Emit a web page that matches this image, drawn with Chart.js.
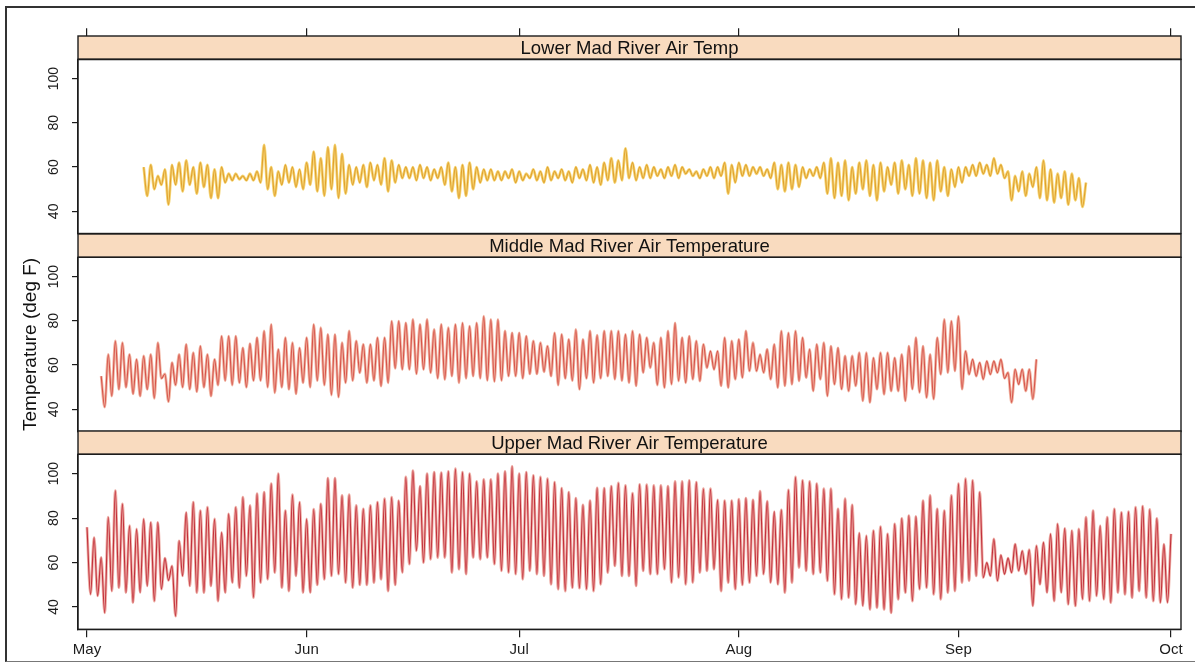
<!DOCTYPE html>
<html>
<head>
<meta charset="utf-8">
<title>Mad River Air Temperature</title>
<script src="https://cdn.jsdelivr.net/npm/chart.js@4.4.1/dist/chart.umd.min.js"></script>
<style>
  html, body { margin: 0; padding: 0; background: #ffffff; }
  #wrap { position: relative; width: 1195px; height: 662px; overflow: hidden; background: #ffffff; }
  #wrap canvas { position: absolute; left: 0; top: 0; }
  #frame { position: absolute; left: 5px; top: 6px; width: 1210px; height: 653px;
           border-left: 2px solid #333; border-top: 2px solid #333; border-bottom: 1px solid #777; }
</style>
</head>
<body>
<div id="wrap">
  <div id="frame"></div>
  <canvas id="lower" width="1195" height="662"></canvas>
  <canvas id="middle" width="1195" height="662"></canvas>
  <canvas id="upper" width="1195" height="662"></canvas>
</div>
<script>
// Days are counted from May 1 (day 0). Each station has one afternoon high per day
// (plotted at the day) and the following overnight low (plotted half a day later).

const monthDays   = [0, 31, 61, 92, 123, 153];
const monthLabels = ['May', 'Jun', 'Jul', 'Aug', 'Sep', 'Oct'];
const tempTicks   = [40, 60, 80, 100];
const panelTitles = ['Lower Mad River Air Temp', 'Middle Mad River Air Temperature', 'Upper Mad River Air Temperature'];
const axisTitle   = 'Temperature (deg F)';

// Lower Mad River (first day: May 9)
const lowerStart = 8;
const lowerHighs = [
  60, 61, 56, 59, 61, 62, 63, 60, 62, 61,
  59, 60, 57, 57, 56, 57, 58, 70, 60, 58,
  61, 60, 59, 62, 67, 64, 69, 70, 66, 61,
  60, 61, 62, 61, 64, 63, 61, 60, 60, 61,
  60, 59, 60, 62, 60, 61, 62, 60, 59, 59,
  58, 58, 59, 58, 57, 59, 58, 60, 58, 59,
  58, 60, 59, 61, 60, 62, 64, 63, 68.5, 62,
  60, 61, 60, 59, 60, 61, 60, 59, 58, 59,
  60, 60, 62, 61, 62, 61, 60, 60, 59, 62,
  61, 62, 61, 60, 59, 60, 62, 64, 62, 63,
  60, 62, 63, 61, 62, 60, 62, 63, 61, 64,
  63, 62, 63, 60, 59, 60, 60, 61, 62, 61,
  64, 61, 58, 56, 58, 57, 60, 63, 59, 57,
  58, 57, 55, 53
];
const lowerLows = [
  47, 50, 52, 43, 52, 49, 52, 48, 51, 46,
  46, 53, 54, 54.5, 54, 54, 53, 50, 47, 52,
  53, 51, 50, 52, 49, 47, 50, 46, 48, 52,
  53, 51, 54, 52, 49, 53, 55, 55, 54, 55,
  54, 55, 52, 49, 46, 47, 50, 53, 54, 54,
  54, 55, 53, 54, 55, 54, 53, 54, 55, 54,
  53, 55, 54, 53, 52, 54, 53, 54, 55, 54,
  55, 55, 56, 55, 56, 55, 57, 56, 55, 56,
  55, 56, 48, 53, 56, 56, 57, 56, 55, 50,
  49, 50, 51, 55, 56, 55, 48, 46, 47, 45,
  48, 50, 47, 45, 49, 52, 48, 50, 47, 48,
  46, 45, 49, 47, 51, 53, 56, 56, 57, 56,
  57, 55, 45, 49, 47, 51, 46, 45, 44, 46,
  43, 45, 42
];

// Middle Mad River (first day: May 3)
const middleStart = 2;
const middleHighs = [
  55, 64.8, 70.9, 70.1, 64.8, 62.6, 64.1, 64.8, 70.1, 56,
  61.1, 64.8, 69.4, 65.6, 68.6, 64.8, 62.6, 73.1, 73.1, 73.1,
  67.8, 69.7, 72.4, 75.4, 78.4, 67.1, 72.4, 70.1, 67.8, 72.4,
  78.4, 76.9, 73.9, 73.9, 70.1, 75.4, 70.9, 69.4, 69.4, 72.4,
  72.4, 79.9, 79.9, 79.1, 80.6, 78.4, 80.6, 76.1, 78.4, 76.9,
  78.4, 79.1, 77.6, 79.1, 82.1, 80.6, 80.6, 75.4, 74.6, 74.6,
  73.1, 70.9, 70.1, 68.6, 74.6, 73.9, 71.6, 76.1, 71.6, 75.4,
  73.5, 75.4, 75.4, 75.4, 73.9, 75.4, 73.9, 72.4, 70.1, 72.4,
  75.4, 79.1, 72.4, 73.1, 70.9, 69.4, 66.3, 66.3, 72.4, 70.9,
  71.6, 75.4, 70.1, 64.8, 67.1, 69.4, 75.4, 74.6, 75.4, 72.4,
  67.1, 69.4, 70.1, 68.6, 67.8, 64.1, 64.1, 65.6, 65.6, 63.3,
  65.6, 65.6, 63.3, 64.8, 68.6, 72.4, 68.6, 64.8, 72.4, 80.6,
  79.9, 82.1, 66.3, 62.6, 61.1, 61.8, 61.8, 62.6, 56.6, 58.1,
  58.1, 58.1, 62.6
];
const middleLows = [
  41, 46, 49, 50, 47, 46, 49, 45, 54, 43.5,
  51, 50, 49, 48, 50, 46, 51, 53, 51, 52,
  50, 53, 53, 50, 47.5, 50, 49, 47, 52, 50,
  53, 51, 46.5, 45.5, 52, 53, 56.5, 52, 53, 50.5,
  52, 58.5, 58, 58, 56, 58, 56.5, 54, 53.5, 55,
  52, 54, 55, 54, 53, 52.5, 53, 55, 55, 54,
  56, 56, 57, 55, 51, 54, 53, 49, 54, 52,
  54, 55, 53.6, 53, 52, 50.6, 56.6, 58.8, 51, 49.8,
  51.3, 52.8, 52, 53.6, 52.8, 58.8, 58, 50.6, 49.8, 53.6,
  54.3, 57.3, 57.3, 56.6, 53.6, 49.8, 50.6, 51.3, 52.8, 54.3,
  48.3, 53.6, 46, 51.3, 49.1, 48.3, 50.6, 43.8, 43.1, 49.1,
  46.8, 48.3, 48.3, 43.8, 49.1, 47.6, 45.3, 44.6, 55.8, 56.6,
  57.3, 49.1, 55.8, 55, 53.6, 55.8, 56.6, 54, 43.1, 51.3,
  48.3, 44.6
];

// Upper Mad River (first day: May 1)
const upperStart = 0;
const upperHighs = [
  75.9, 71.3, 62.3, 80.4, 92.4, 86.4, 76.6, 75.1, 79.6, 78.1,
  78.1, 62, 58.5, 69.8, 82.6, 87.2, 83.4, 84.9, 79.6, 73.6,
  81.9, 84.9, 89.4, 85.7, 91.0, 91.7, 95.5, 100.0, 83.4, 90.5,
  87.2, 79.6, 84, 86.4, 98.0, 98.0, 90.2, 90.5, 85.7, 84.2,
  85.7, 87.2, 88.7, 89.4, 87.9, 98.5, 101.4, 94.4, 100.0, 100.7,
  100.5, 101.0, 102.2, 100.7, 100.0, 96.5, 97.4, 97.4, 100.0, 101.0,
  103.3, 100.0, 100.7, 99.2, 98.5, 97.7, 96.2, 93.5, 91.7, 89,
  86.0, 87.9, 93.6, 93.5, 94.4, 95.8, 94.7, 91.2, 95.2, 95.0,
  94.7, 94.7, 94.4, 96.5, 96.5, 97.0, 96.2, 93.2, 93.2, 88.2,
  87.9, 87.9, 88.5, 89.0, 88.2, 92.1, 87.6, 82.9, 83.7, 92.7,
  98.5, 97.0, 96.5, 95.5, 93.2, 93.2, 84.2, 88.7, 86.0, 73.3,
  72.1, 74.4, 76.2, 72.9, 77.4, 79.9, 81.1, 80.8, 87.9, 90.2,
  84.2, 83.4, 90.2, 95.5, 97.7, 97.0, 91.7, 60.0, 70.6, 63.4,
  62, 68.3, 65.3, 65.8, 67.6, 69.1, 72.9, 77.4, 75.4, 74.4,
  75.1, 80.4, 83.4, 76.6, 80.4, 84.2, 82.6, 82.9, 84.9, 85.4,
  83.9, 79.9, 68.3, 72.9
];
const upperLows = [
  45.7, 45, 37.4, 47.2, 48.7, 46.5, 42, 46.5, 49.5, 42.7,
  48, 52, 35.9, 54, 49.5, 46.5, 46.5, 49.5, 42.7, 46.5,
  51, 48.7, 54, 44.2, 51, 52.5, 55.5, 48.7, 47.2, 54,
  46.5, 46.5, 50, 52.5, 54, 54.8, 51, 48.7, 50, 50,
  51, 52.5, 47.2, 50, 55.5, 59.3, 65.3, 60, 61.5, 62.3,
  62.3, 55.5, 57.0, 54.8, 62.3, 61.5, 62.3, 59.3, 56.3, 55.5,
  54.8, 52.5, 56.3, 54.8, 54.0, 50.2, 48.0, 47.2, 48.7, 48.5,
  48.0, 47.2, 50.2, 55.5, 58.5, 54.0, 54.0, 49.5, 56.3, 54.8,
  54.8, 57.0, 51.0, 53.3, 50.2, 51.0, 55.5, 56.3, 57.0, 47.2,
  51.0, 48.0, 50, 51.0, 54.0, 54.8, 51.0, 50.2, 46.5, 51.0,
  57.8, 56.3, 54.8, 55.5, 51.8, 45.7, 43.5, 44.2, 41.2, 40.5,
  38.9, 39.7, 38.9, 37.4, 43.5, 46.5, 42.7, 48.0, 48.7, 45.7,
  43.5, 46.5, 47.2, 51.0, 51.8, 54.0, 53.3, 54.0, 51.8, 54.8,
  55.5, 56.3, 54.8, 40.5, 50.2, 46.5, 42.7, 46.5, 41.2, 40.5,
  43.5, 42.7, 45.0, 43.5, 42.0, 46.5, 45.7, 44.2, 47.2, 44.2,
  42.7, 42.0, 42.0
];

// Interleave each day's high with the low that follows it.
function dailyCycle(start, highs, lows) {
  const pts = [];
  highs.forEach((h, i) => {
    pts.push({ x: start + i, y: h });
    if (i < lows.length) pts.push({ x: start + i + 0.5, y: lows[i] });
  });
  return pts;
}

const FONT = '"Liberation Sans", Arial, Helvetica, sans-serif';
const INK = '#1c1c1c';
const X_MIN = -1.27, X_MAX = 154.41;
const Y_MIN = 30, Y_MAX = 108.7;
const STRIP_H = 23.3;

// Shaded title strip above each panel plus the panel frame.
const panelDecor = {
  id: 'panelDecor',
  afterDraw(chart, args, opts) {
    const { ctx, chartArea: a } = chart;
    const w = a.right - a.left;
    ctx.save();
    ctx.fillStyle = '#f9dbbf';
    ctx.fillRect(a.left, a.top - STRIP_H, w, STRIP_H);
    ctx.strokeStyle = INK;
    ctx.lineWidth = 1.4;
    ctx.strokeRect(a.left, a.top - STRIP_H, w, STRIP_H);
    ctx.strokeRect(a.left, a.top, w, a.bottom - a.top);
    ctx.fillStyle = '#111';
    ctx.font = '18.5px ' + FONT;
    ctx.textAlign = 'center';
    ctx.textBaseline = 'middle';
    ctx.fillText(opts.title, a.left + w / 2, a.top - STRIP_H / 2 + 1);
    ctx.restore();
  }
};

function monthTicks(scale) {
  scale.ticks = monthDays.map(v => ({ value: v }));
}

function makePanel(canvasId, cfg) {
  const xScale = {
    type: 'linear',
    min: X_MIN,
    max: X_MAX,
    position: cfg.xPosition || 'bottom',
    display: cfg.xPosition !== null,
    afterBuildTicks: monthTicks,
    grid: { display: true, drawOnChartArea: false, drawTicks: true, tickLength: cfg.xTickLength, color: INK, lineWidth: 1.2 },
    border: { display: true, color: INK, width: 1.2 },
    ticks: {
      display: cfg.xLabels,
      autoSkip: false,
      maxRotation: 0,
      minRotation: 0,
      padding: 4,
      color: INK,
      font: { family: FONT, size: 15 },
      callback: (v, i) => monthLabels[i]
    },
    afterFit: s => { s.height = cfg.xHeight; }
  };

  return new Chart(document.getElementById(canvasId), {
    type: 'line',
    data: {
      datasets: [
        { data: dailyCycle(cfg.start, cfg.highs, cfg.lows), borderColor: cfg.lineColor, borderWidth: 1.1 },
        { data: dailyCycle(cfg.start, cfg.highs, cfg.lows), borderColor: cfg.haloColor, borderWidth: 2.8 }
      ]
    },
    options: {
      responsive: false,
      animation: false,
      events: [],
      parsing: false,
      layout: { padding: { left: 0, right: 14, top: cfg.padTop, bottom: cfg.padBottom } },
      elements: {
        point: { radius: 0 },
        line: { cubicInterpolationMode: 'monotone', borderJoinStyle: 'round', fill: false }
      },
      scales: {
        x: xScale,
        y: {
          type: 'linear',
          min: Y_MIN,
          max: Y_MAX,
          position: 'left',
          afterBuildTicks: s => { s.ticks = tempTicks.map(v => ({ value: v })); },
          afterFit: s => { s.width = 78; },
          grid: { display: true, drawOnChartArea: false, drawTicks: true, tickLength: 6, color: INK, lineWidth: 1.2 },
          border: { display: true, color: INK, width: 1.2 },
          ticks: {
            minRotation: 90,
            maxRotation: 90,
            crossAlign: 'center',
            padding: 6,
            color: INK,
            font: { family: FONT, size: 14 }
          },
          title: {
            display: cfg.yTitle,
            text: axisTitle,
            color: '#111',
            font: { family: FONT, size: 19 },
            padding: { top: 19, bottom: 0 }
          }
        }
      },
      plugins: {
        legend: { display: false },
        tooltip: { enabled: false },
        panelDecor: { title: cfg.title }
      }
    },
    plugins: [panelDecor]
  });
}

makePanel('lower', {
  title: panelTitles[0], start: lowerStart, highs: lowerHighs, lows: lowerLows,
  lineColor: '#e0a02e', haloColor: '#f5d574',
  xPosition: 'top', xLabels: false, xTickLength: 31, xHeight: 31.3,
  padTop: 28, padBottom: 428.5, yTitle: false
});
makePanel('middle', {
  title: panelTitles[1], start: middleStart, highs: middleHighs, lows: middleLows,
  lineColor: '#d6534a', haloColor: '#f1b5a3',
  xPosition: null, xLabels: false, xTickLength: 0, xHeight: 0,
  padTop: 257.3, padBottom: 230.5, yTitle: true
});
makePanel('upper', {
  title: panelTitles[2], start: upperStart, highs: upperHighs, lows: upperLows,
  lineColor: '#c2303c', haloColor: '#eeaea6',
  xPosition: 'bottom', xLabels: true, xTickLength: 8, xHeight: 28,
  padTop: 454.3, padBottom: 4.7, yTitle: false
});
</script>
</body>
</html>
